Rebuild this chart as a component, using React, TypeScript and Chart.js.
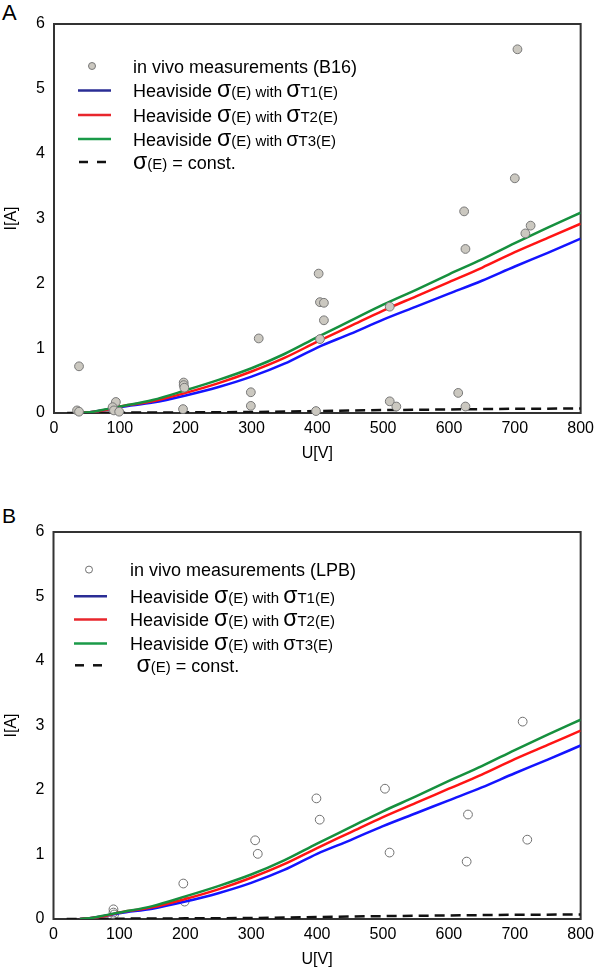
import React, { useEffect, useRef } from "react";
import { Chart, registerables } from "chart.js";

Chart.register(...registerables);

const FONT = '"Liberation Sans", Arial, Helvetica, sans-serif';

// ---------- axes ----------
const U_MIN = 0;
const U_MAX = 800;
const U_STEP = 100;
const I_MIN = 0;
const I_MAX = 6;
const I_STEP = 1;
const U_TITLE = "U[V]";
const I_TITLE = "I[A]";

// ---------- model curves (same in both panels) ----------
const MODEL_U = [40, 60, 80, 100, 150, 200, 250, 300, 350, 400, 450, 500, 550, 600, 650, 700, 750, 800];
const MODEL_T1 = [0, 0.02, 0.05, 0.09, 0.16, 0.27, 0.4, 0.56, 0.76, 1.01, 1.22, 1.44, 1.64, 1.84, 2.04, 2.26, 2.47, 2.69];
const MODEL_T2 = [0, 0.02, 0.05, 0.1, 0.18, 0.31, 0.46, 0.64, 0.85, 1.1, 1.34, 1.58, 1.8, 2.02, 2.24, 2.48, 2.7, 2.92];
const MODEL_T3 = [0, 0.02, 0.06, 0.1, 0.2, 0.35, 0.51, 0.69, 0.91, 1.17, 1.42, 1.67, 1.9, 2.14, 2.37, 2.62, 2.86, 3.09];
const CONST_U = [20, 100, 200, 300, 400, 500, 600, 700, 800];
const CONST_I = [0, 0.005, 0.01, 0.015, 0.03, 0.045, 0.055, 0.065, 0.07];

// ---------- measurements ----------
const B16_U = [38, 35, 38, 94, 89, 91, 99, 197, 197, 198, 196, 299, 299, 311, 402, 404, 410, 410, 404, 398, 510, 510, 520, 623, 625, 614, 625, 700, 704, 716, 724];
const B16_I = [0.72, 0.04, 0.02, 0.17, 0.09, 0.04, 0.02, 0.47, 0.43, 0.39, 0.06, 0.32, 0.11, 1.15, 2.15, 1.71, 1.7, 1.43, 1.14, 0.03, 1.64, 0.18, 0.1, 3.11, 2.53, 0.31, 0.1, 3.62, 5.61, 2.77, 2.89];

const LPB_U = [91, 91, 92, 197, 199, 306, 310, 399, 404, 503, 510, 629, 627, 712, 719];
const LPB_I = [0.15, 0.1, 0.07, 0.55, 0.27, 1.22, 1.01, 1.87, 1.54, 2.02, 1.03, 1.62, 0.89, 3.06, 1.23];

// ---------- legend texts (segments: n normal, s small, g sigma, m medium sigma) ----------
type Seg = [string, string];
const LEGEND_B16: Seg[] = [["in vivo measurements (B16)", "n"]];
const LEGEND_LPB: Seg[] = [["in vivo measurements (LPB)", "n"]];
const LEGEND_T1: Seg[] = [["Heaviside ", "n"], ["σ", "g"], ["(E) with ", "s"], ["σ", "g"], ["T1(E)", "s"]];
const LEGEND_T2: Seg[] = [["Heaviside ", "n"], ["σ", "g"], ["(E) with ", "s"], ["σ", "g"], ["T2(E)", "s"]];
const LEGEND_T3: Seg[] = [["Heaviside ", "n"], ["σ", "g"], ["(E) with ", "s"], ["σ", "m"], ["T3(E)", "s"]];
const LEGEND_CONST: Seg[] = [["σ", "g"], ["(E)", "s"], [" = const.", "n"]];

const SEG_SIZES: Record<string, number> = { n: 18, s: 15, g: 23, m: 20 };

const joinSeg = (s: Seg[]) => s.map((p) => p[0]).join("");
const pts = (xs: number[], ys: number[]) => xs.map((x, i) => ({ x, y: ys[i] }));

const framePlugin = {
  id: "frame",
  beforeDatasetsDraw(chart: any) {
    const { ctx, chartArea } = chart;
    const { left, top, right, bottom } = chartArea;
    ctx.save();
    ctx.strokeStyle = "#333333";
    ctx.lineWidth = 2;
    ctx.strokeRect(left, top, right - left, bottom - top);
    ctx.restore();
  },
};

const richLegend = {
  id: "richLegend",
  afterDraw(chart: any, _args: any, opts: any) {
    const { ctx, chartArea } = chart;
    const x0 = chartArea.left;
    const top = chartArea.top;
    ctx.save();
    opts.rows.forEach((segs: Seg[], i: number) => {
      const ds = chart.data.datasets[i];
      const y = top + opts.rowY[i];
      if (ds.isMarker) {
        ctx.beginPath();
        ctx.arc(x0 + opts.markerX, y, 3.5, 0, Math.PI * 2);
        ctx.fillStyle = ds.backgroundColor;
        ctx.fill();
        ctx.lineWidth = 1;
        ctx.strokeStyle = ds.borderColor;
        ctx.stroke();
      } else {
        ctx.beginPath();
        ctx.strokeStyle = ds.legendColor || ds.borderColor;
        ctx.lineWidth = 2.5;
        if (ds.borderDash && ds.borderDash.length) {
          ctx.setLineDash([9, 9]);
          ctx.moveTo(x0 + opts.lineX0 + 1, y);
          ctx.lineTo(x0 + opts.lineX0 + 28, y);
        } else {
          ctx.setLineDash([]);
          ctx.moveTo(x0 + opts.lineX0, y);
          ctx.lineTo(x0 + opts.lineX1, y);
        }
        ctx.stroke();
        ctx.setLineDash([]);
      }
      let tx = x0 + opts.textX + (opts.indent[i] || 0);
      ctx.fillStyle = "#000";
      ctx.textBaseline = "alphabetic";
      ctx.textAlign = "left";
      segs.forEach(([str, kind]) => {
        ctx.font = `${SEG_SIZES[kind]}px ${FONT}`;
        ctx.fillText(str, tx, y + 6.5);
        tx += ctx.measureText(str).width;
      });
    });
    ctx.restore();
  },
};

type PanelProps = {
  letter: string;
  letterTop: number;
  letterSize: number;
  top: number;
  height: number;
  padTop: number;
  padRight: number;
  yWidth: number;
  xHeight: number;
  xTitlePad: number;
  scatterU: number[];
  scatterI: number[];
  scatterLegend: Seg[];
  scatterFill: string;
  scatterStroke: string;
  scatterOnTop: boolean;
  legendRowY: number[];
  legendMarkerX: number;
  legendLineX0: number;
  legendLineX1: number;
  legendTextX: number;
  legendIndent: number[];
};

function Panel(p: PanelProps) {
  const ref = useRef<HTMLCanvasElement | null>(null);
  useEffect(() => {
    if (!ref.current) return;
    const datasets: any[] = [
      {
        label: joinSeg(p.scatterLegend),
        data: pts(p.scatterU, p.scatterI),
        isMarker: true,
        showLine: false,
        pointRadius: 4.4,
        pointBorderWidth: 1,
        backgroundColor: p.scatterFill,
        borderColor: p.scatterStroke,
        pointBackgroundColor: p.scatterFill,
        pointBorderColor: p.scatterStroke,
        clip: false,
        order: p.scatterOnTop ? 0 : 10,
      },
      {
        label: joinSeg(LEGEND_T1),
        data: pts(MODEL_U, MODEL_T1),
        showLine: true,
        borderColor: "#1414ff",
        legendColor: "#2a2d95",
        borderWidth: 2.5,
        pointRadius: 0,
        cubicInterpolationMode: "monotone",
        order: 3,
      },
      {
        label: joinSeg(LEGEND_T2),
        data: pts(MODEL_U, MODEL_T2),
        showLine: true,
        borderColor: "#ff1414",
        legendColor: "#e8262c",
        borderWidth: 2.5,
        pointRadius: 0,
        cubicInterpolationMode: "monotone",
        order: 2,
      },
      {
        label: joinSeg(LEGEND_T3),
        data: pts(MODEL_U, MODEL_T3),
        showLine: true,
        borderColor: "#16903e",
        legendColor: "#1a9a48",
        borderWidth: 2.5,
        pointRadius: 0,
        cubicInterpolationMode: "monotone",
        order: 1,
      },
      {
        label: joinSeg(LEGEND_CONST),
        data: pts(CONST_U, CONST_I),
        showLine: true,
        borderColor: "#111111",
        borderWidth: 2.5,
        borderDash: [10, 6],
        pointRadius: 0,
        order: 4,
      },
    ];
    const chart = new Chart(ref.current, {
      type: "scatter",
      data: { datasets },
      options: {
        animation: false,
        responsive: false,
        maintainAspectRatio: false,
        devicePixelRatio: 1,
        events: [],
        layout: { padding: { top: p.padTop, right: p.padRight, left: 0, bottom: 0 } },
        plugins: {
          legend: { display: false },
          tooltip: { enabled: false },
          richLegend: {
            rows: [p.scatterLegend, LEGEND_T1, LEGEND_T2, LEGEND_T3, LEGEND_CONST],
            rowY: p.legendRowY,
            markerX: p.legendMarkerX,
            lineX0: p.legendLineX0,
            lineX1: p.legendLineX1,
            textX: p.legendTextX,
            indent: p.legendIndent,
          },
        } as any,
        scales: {
          x: {
            type: "linear",
            min: U_MIN,
            max: U_MAX,
            grid: { display: false, drawTicks: false },
            border: { display: false },
            ticks: { stepSize: U_STEP, padding: 6, color: "#000", font: { family: FONT, size: 16 }, maxRotation: 0 },
            title: {
              display: true,
              text: U_TITLE,
              color: "#000",
              font: { family: FONT, size: 16 },
              padding: { top: 0, bottom: p.xTitlePad },
            },
            afterFit: (s: any) => {
              s.height = p.xHeight;
            },
          },
          y: {
            type: "linear",
            min: I_MIN,
            max: I_MAX,
            grid: { display: false, drawTicks: false },
            border: { display: false },
            ticks: { stepSize: I_STEP, padding: 9, color: "#000", font: { family: FONT, size: 16 } },
            title: {
              display: true,
              text: I_TITLE,
              color: "#000",
              font: { family: FONT, size: 16 },
              padding: { top: 2, bottom: 0 },
            },
            afterFit: (s: any) => {
              s.width = p.yWidth;
            },
          },
        },
      } as any,
      plugins: [framePlugin, richLegend] as any,
    });
    return () => chart.destroy();
  }, []);
  return (
    <>
      <div
        style={{
          position: "absolute",
          left: 2,
          top: p.letterTop,
          fontFamily: FONT,
          fontSize: p.letterSize,
          lineHeight: 1,
          color: "#000",
        }}
      >
        {p.letter}
      </div>
      <canvas
        ref={ref}
        width={600}
        height={p.height}
        style={{ position: "absolute", left: 0, top: p.top, width: 600, height: p.height, display: "block" }}
      />
    </>
  );
}

export default function App() {
  return (
    <div style={{ position: "absolute", left: 0, top: 0, width: 600, height: 971, overflow: "hidden", background: "#fff" }}>
      <Panel
        letter="A"
        letterTop={1.5}
        letterSize={22}
        top={0}
        height={473}
        padTop={24}
        padRight={16}
        yWidth={54}
        xHeight={60}
        xTitlePad={10}
        scatterU={B16_U}
        scatterI={B16_I}
        scatterLegend={LEGEND_B16}
        scatterFill="#cbc8c0"
        scatterStroke="#787878"
        scatterOnTop={true}
        legendRowY={[42, 66.5, 91, 115, 138]}
        legendMarkerX={38}
        legendLineX0={24}
        legendLineX1={57}
        legendTextX={79}
        legendIndent={[0, 0, 0, 0, 0]}
      />
      <Panel
        letter="B"
        letterTop={505}
        letterSize={21}
        top={485}
        height={484}
        padTop={47}
        padRight={17}
        yWidth={53.5}
        xHeight={50}
        xTitlePad={0}
        scatterU={LPB_U}
        scatterI={LPB_I}
        scatterLegend={LEGEND_LPB}
        scatterFill="rgba(255,255,255,0)"
        scatterStroke="#707070"
        scatterOnTop={false}
        legendRowY={[37.6, 64.3, 87.6, 111.6, 133.3]}
        legendMarkerX={35.5}
        legendLineX0={20.5}
        legendLineX1={53.5}
        legendTextX={76.5}
        legendIndent={[0, 0, 0, 0, 6.5]}
      />
    </div>
  );
}
